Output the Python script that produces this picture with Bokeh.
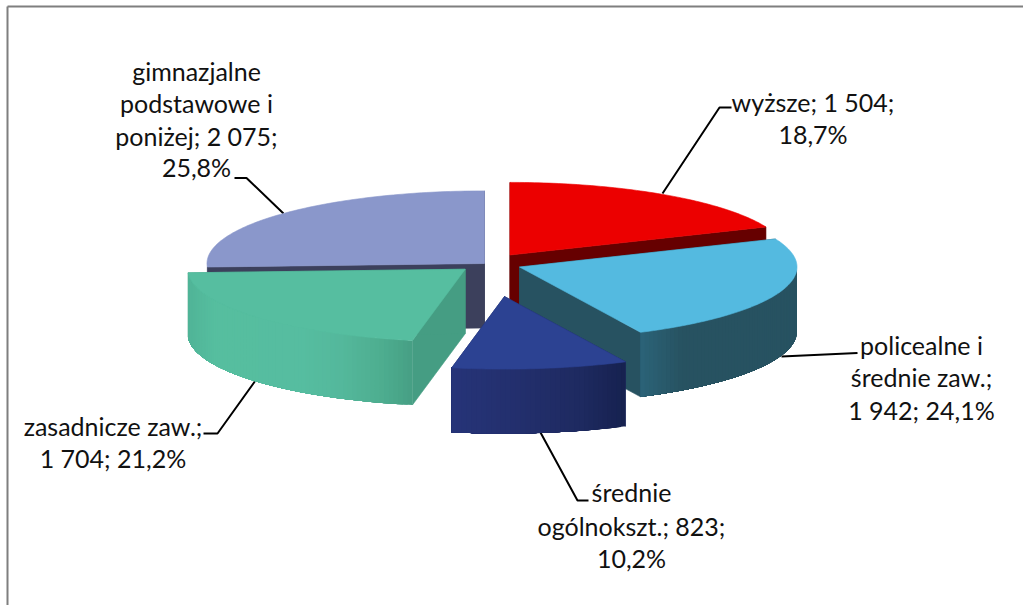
import math
from bokeh.plotting import figure
from bokeh.models import Range1d
from bokeh.embed import file_html
from bokeh.resources import INLINE
from bokeh.core.properties import value

# ---- data ----
categories = ["wyższe", "policealne i średnie zaw.", "średnie ogólnokszt.", "zasadnicze zaw.", "gimnazjalne podstawowe i poniżej"]
values = [1504, 1942, 823, 1704, 2075]
label_lines = [
    ["wyższe; 1 504;", "18,7%"],
    ["policealne i", "średnie zaw.;", "1 942; 24,1%"],
    ["średnie", "ogólnokszt.; 823;", "10,2%"],
    ["zasadnicze zaw.;", "1 704; 21,2%"],
    ["gimnazjalne", "podstawowe i", "poniżej; 2 075;", "25,8%"],
]

# ---- styling / layout ----
W, H = 1023, 605
RX, RY, DEPTH = 277.5, 72.6, 64.5
apex = [(509.5, 254.5), (519.0, 266.5), (504.0, 296.0), (464.7, 268.7), (484.0, 263.0)]
top_col = ["#ec0000", "#54bae0", "#2c4292", "#56bea0", "#8a97cb"]
cut_col = ["#660000", "#275261", "#1e2a60", "#459d83", "#3c405c"]
wall_stops = [
    [(510, "#660000"), (780, "#660000")],
    [(640, "#2b6378"), (682, "#275261"), (800, "#275261")],
    [(451, "#263478"), (530, "#222e6b"), (580, "#1e2a60"), (626, "#16214f")],
    [(187, "#50b497"), (215, "#56be9f"), (300, "#56bda0"), (340, "#54b89c"), (380, "#4eae90"), (412, "#469f84")],
    [(205, "#3c405c"), (484, "#3c405c")],
]
draw_order = [4, 0, 1, 3, 2]
leaders = [
    ([662, 719, 731], [193, 107, 107]),
    ([781, 857], [356, 352.5]),
    ([540, 577, 588], [432, 500, 500]),
    ([255, 217, 203], [380, 433, 433]),
    ([283, 246, 234], [213, 177.5, 177.5]),
]
label_x = [812.5, 921, 631, 112.5, 196]
label_y = [[101.5, 133.5], [344.5, 376.5, 409.5], [491.5, 525, 557], [425.5, 457.5], [70.5, 102.5, 135.5, 166.5]]
FONT_PX = 25


def hex2rgb(c):
    return tuple(int(c[i:i + 2], 16) for i in (1, 3, 5))


def stop_color(stops, x):
    if x <= stops[0][0]:
        return stops[0][1]
    for (x0, c0), (x1, c1) in zip(stops, stops[1:]):
        if x <= x1:
            t = (x - x0) / (x1 - x0)
            a, b = hex2rgb(c0), hex2rgb(c1)
            return "#%02x%02x%02x" % tuple(round(a[k] + (b[k] - a[k]) * t) for k in range(3))
    return stops[-1][1]


total = sum(values)
xs, ys, cols, widths = [], [], [], []
starts = []
acc = 0.0
for v in values:
    starts.append(acc)
    acc += v / total * 360.0


def pt(i, deg):
    r = math.radians(deg)
    return apex[i][0] + RX * math.sin(r), apex[i][1] - RY * math.cos(r)


def add(x, y, c, w):
    xs.append(x); ys.append(y); cols.append(c); widths.append(w)


for i in draw_order:
    a0 = starts[i]
    a1 = a0 + values[i] / total * 360.0
    ax, ay = apex[i]
    # cut faces
    for a in (a0, a1):
        px, py = pt(i, a)
        add([ax, px, px, ax], [ay, py, py + DEPTH, ay + DEPTH], cut_col[i], 0.6)
    # outer wall: only the part facing the viewer, painted as overlapping strips
    lo, hi = max(a0, 90.0), min(a1, 270.0)
    step = 1.0
    m = max(1, int((hi - lo) / step)) if hi > lo else 0
    for k in range(m):
        a = lo + (hi - lo) * k / m
        # every strip runs to the wall's end, the next one covers it
        n = max(2, int(hi - a) + 1)
        arc = [pt(i, a + (hi - a) * q / n) for q in range(n + 1)]
        c = stop_color(wall_stops[i], pt(i, a + (hi - lo) / m / 2)[0])
        add([q[0] for q in arc] + [q[0] for q in reversed(arc)],
            [q[1] for q in arc] + [q[1] + DEPTH for q in reversed(arc)], c, 0)
    # top face
    n = max(2, int(a1 - a0))
    arc = [pt(i, a0 + (a1 - a0) * k / n) for k in range(n + 1)]
    add([ax] + [q[0] for q in arc], [ay] + [q[1] for q in arc], top_col[i], 0.6)

p = figure(width=W, height=H, output_backend="svg", toolbar_location=None,
           x_range=Range1d(0, W), y_range=Range1d(H, 0), min_border=0,
           background_fill_color="white", border_fill_color="white")
p.axis.visible = False
p.grid.visible = False
p.outline_line_color = None

# chart border
p.line([7, W], [6, 6], line_color="#7f7f7f", line_width=2)
p.line([7, 7], [6, H], line_color="#7f7f7f", line_width=2)

for lx, ly in leaders:
    p.line(lx, ly, line_color="#000000", line_width=2)

p.patches(xs, ys, fill_color=cols, line_color=cols, line_width=widths)

tx, ty, tt = [], [], []
for i, lines in enumerate(label_lines):
    for yy, s in zip(label_y[i], lines):
        tx.append(label_x[i]); ty.append(yy); tt.append(s)
p.text(tx, ty, text=tt, text_font=value("Lato"), text_font_size=f"{FONT_PX}px",
       text_color="#111111", text_align="center", text_baseline="middle")

open("out.html", "w").write(file_html(p, INLINE))
